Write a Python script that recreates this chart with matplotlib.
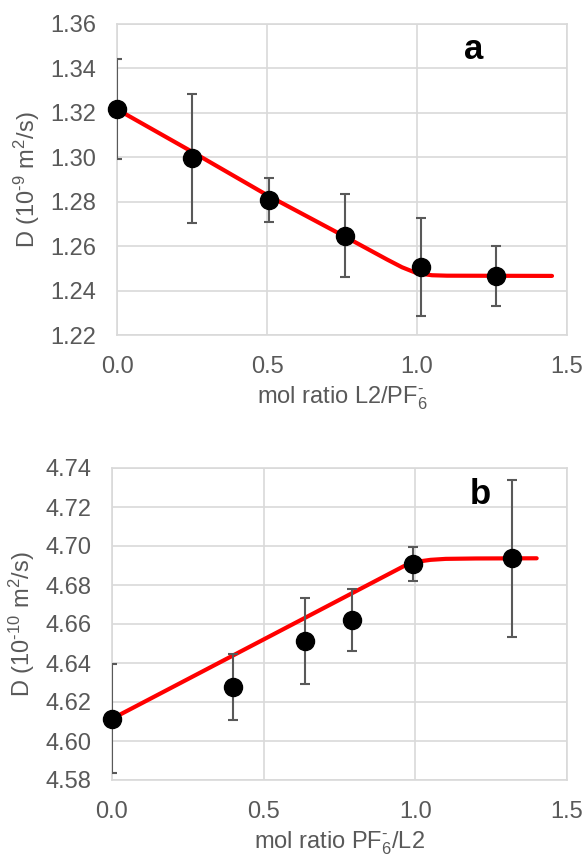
import matplotlib
matplotlib.use("Agg")
import matplotlib.pyplot as plt

plt.rcParams['font.family'] = ['Liberation Sans', 'DejaVu Sans']
plt.rcParams['mathtext.default'] = 'regular'

# Panel a data
a_x = [0.0, 0.251, 0.507, 0.759, 1.012, 1.265]
a_y = [1.3216, 1.2995, 1.2808, 1.2647, 1.2505, 1.2466]
a_err = [0.0225, 0.029, 0.010, 0.0186, 0.022, 0.0134]
a_fit_x = [0.0, 0.25, 0.5, 0.75, 0.9, 0.95, 1.0, 1.05, 1.1, 1.45]
a_fit_y = [1.3216, 1.3025, 1.2830, 1.2650, 1.2540, 1.2505, 1.2478, 1.2469, 1.2467, 1.2466]
a_yticks = [1.22, 1.24, 1.26, 1.28, 1.30, 1.32, 1.34, 1.36]

# Panel b data
b_x = [0.0, 0.398, 0.635, 0.792, 0.991, 1.320]
b_y = [4.6114, 4.6277, 4.6513, 4.6621, 4.6908, 4.6937]
b_err = [0.028, 0.017, 0.0222, 0.0158, 0.0086, 0.0403]
b_fit_x = [0.0, 0.96, 1.0, 1.05, 1.1, 1.2, 1.4]
b_fit_y = [4.6114, 4.6895, 4.6918, 4.6929, 4.6934, 4.6936, 4.6937]
b_yticks = [4.58, 4.60, 4.62, 4.64, 4.66, 4.68, 4.70, 4.72, 4.74]

xticks = [0.0, 0.5, 1.0, 1.5]

W, H = 587, 856
fig = plt.figure(figsize=(W / 100, H / 100), dpi=100)

GRID = '#d9d9d9'
TXT = '#595959'
HY = '\u2010'


def px_axes(l, t, r, b):
    return fig.add_axes([l / W, 1 - b / H, (r - l) / W, (b - t) / H])


def style(ax, yticks, ylim, yfmt):
    ax.set_xlim(0, 1.5)
    ax.set_ylim(*ylim)
    ax.set_xticks(xticks)
    ax.set_xticklabels([f'{v:.1f}' for v in xticks])
    ax.set_yticks(yticks)
    ax.set_yticklabels([yfmt.format(v) for v in yticks])
    ax.grid(True, color=GRID, lw=1.2)
    ax.set_axisbelow(True)
    for s in ax.spines.values():
        s.set_color(GRID)
        s.set_linewidth(1.2)
    ax.tick_params(length=0, pad=15, labelsize=17, colors=TXT)


def draw(ax, x, y, err, fx, fy):
    ax.plot(fx, fy, color='#ff0000', lw=3, zorder=2, solid_capstyle='round')
    ax.errorbar(x, y, yerr=err, fmt='none', ecolor=TXT, elinewidth=1.5,
                capsize=3.5, capthick=1.5, zorder=3)
    ax.plot(x, y, 'o', color='black', ms=13, zorder=4, clip_on=False)


ax1 = px_axes(117, 24, 567, 335)
style(ax1, a_yticks, (1.22, 1.36), '{:.2f}')
draw(ax1, a_x, a_y, a_err, a_fit_x, a_fit_y)
ax1.text(1.19, 1.3487, 'a', fontsize=25, fontweight='bold', ha='center', va='center')

ax2 = px_axes(112, 468, 567, 780)
style(ax2, b_yticks, (4.58, 4.74), '{:.2f}')
draw(ax2, b_x, b_y, b_err, b_fit_x, b_fit_y)
ax2.text(1.213, 4.7262, 'b', fontsize=25, fontweight='bold', ha='center', va='center')

fig.text(27 / W, 1 - 180 / H, 'D (10$^{' + HY + '9}$ m$^{2}$/s)', rotation=90,
         ha='center', va='center', fontsize=17, color=TXT)
fig.text(342 / W, 1 - 398 / H, 'mol ratio L2/PF$_6^{' + HY + '}$',
         ha='center', va='center', fontsize=17, color=TXT)

fig.text(22 / W, 1 - 624 / H, 'D (10$^{' + HY + '10}$ m$^{2}$/s)', rotation=90,
         ha='center', va='center', fontsize=17, color=TXT)
fig.text(339 / W, 1 - 843 / H, 'mol ratio PF$_6^{' + HY + '}$/L2',
         ha='center', va='center', fontsize=17, color=TXT)

fig.savefig('out.png', dpi=100)
